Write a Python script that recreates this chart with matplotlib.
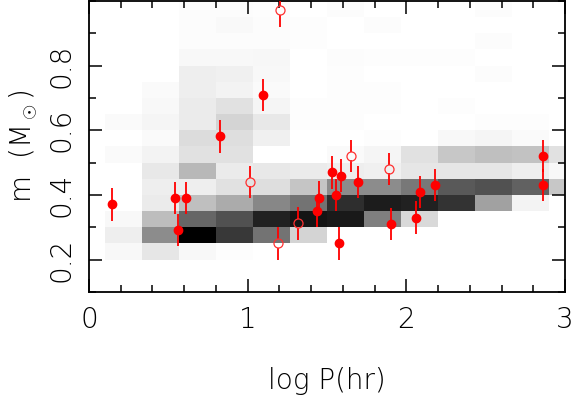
import numpy as np
import matplotlib
matplotlib.use("Agg")
import matplotlib.pyplot as plt
from matplotlib.ticker import MultipleLocator

plt.rcParams["font.family"] = "DejaVu Sans"
plt.rcParams["font.weight"] = 200
plt.rcParams["axes.labelweight"] = 200
plt.rcParams["mathtext.fontset"] = "custom"
plt.rcParams["mathtext.rm"] = "DejaVu Sans:weight=200"
plt.rcParams["mathtext.it"] = "DejaVu Sans:weight=200"

# bin edges of the grey background histogram
x_edges = [0.1, 0.333, 0.567, 0.8, 1.033, 1.267, 1.5, 1.733, 1.967, 2.2, 2.433, 2.667, 2.9, 3.133]
y_edges = [0.2, 0.25, 0.3, 0.35, 0.4, 0.45, 0.5, 0.55, 0.6, 0.65, 0.7, 0.75, 0.8, 0.85, 0.9, 0.95, 1.0]

# darkness of each cell (0 = white, 1 = black), bottom row first
density = [
    [0.03, 0.10, 0.03, 0.01, 0.00, 0.00, 0.00, 0.00, 0.00, 0.00, 0.00, 0.00, 0.00],
    [0.07, 0.45, 1.00, 0.78, 0.55, 0.17, 0.00, 0.00, 0.00, 0.00, 0.00, 0.00, 0.00],
    [0.03, 0.26, 0.60, 0.68, 0.87, 0.92, 0.90, 0.50, 0.15, 0.00, 0.00, 0.00, 0.00],
    [0.00, 0.08, 0.25, 0.33, 0.47, 0.55, 0.82, 0.89, 0.87, 0.80, 0.37, 0.05, 0.00],
    [0.00, 0.07, 0.07, 0.12, 0.13, 0.23, 0.45, 0.45, 0.53, 0.65, 0.68, 0.62, 0.22],
    [0.00, 0.09, 0.28, 0.08, 0.09, 0.08, 0.07, 0.06, 0.10, 0.10, 0.10, 0.07, 0.03],
    [0.02, 0.05, 0.12, 0.12, 0.00, 0.00, 0.02, 0.04, 0.12, 0.22, 0.25, 0.24, 0.12],
    [0.00, 0.02, 0.14, 0.13, 0.06, 0.00, 0.00, 0.01, 0.00, 0.03, 0.04, 0.02, 0.00],
    [0.02, 0.04, 0.08, 0.17, 0.09, 0.01, 0.01, 0.00, 0.00, 0.00, 0.01, 0.01, 0.00],
    [0.00, 0.03, 0.08, 0.12, 0.04, 0.01, 0.01, 0.01, 0.00, 0.01, 0.00, 0.00, 0.00],
    [0.00, 0.02, 0.07, 0.05, 0.02, 0.00, 0.01, 0.01, 0.00, 0.00, 0.00, 0.00, 0.00],
    [0.00, 0.00, 0.07, 0.06, 0.03, 0.00, 0.01, 0.00, 0.00, 0.00, 0.015, 0.00, 0.00],
    [0.00, 0.00, 0.03, 0.03, 0.035, 0.00, 0.015, 0.01, 0.01, 0.01, 0.00, 0.00, 0.00],
    [0.00, 0.00, 0.015, 0.015, 0.015, 0.01, 0.00, 0.00, 0.00, 0.00, 0.015, 0.00, 0.00],
    [0.00, 0.00, 0.015, 0.025, 0.015, 0.01, 0.00, 0.015, 0.00, 0.00, 0.00, 0.00, 0.00],
    [0.00, 0.00, 0.015, 0.015, 0.01, 0.00, 0.015, 0.00, 0.00, 0.00, 0.015, 0.00, 0.00],
]

# measured systems, filled symbols
logp_filled = [0.147, 0.542, 0.611, 0.559, 0.825, 1.094, 1.435, 1.447, 1.529, 1.586,
               1.554, 1.575, 1.697, 1.905, 2.062, 2.088, 2.180, 2.863, 2.863]
mass_filled = [0.371, 0.391, 0.391, 0.291, 0.581, 0.710, 0.350, 0.392, 0.470, 0.460,
               0.400, 0.250, 0.441, 0.311, 0.330, 0.410, 0.430, 0.521, 0.430]
err_filled = [0.05, 0.05, 0.05, 0.05, 0.05, 0.05, 0.05, 0.05, 0.05, 0.05,
              0.05, 0.05, 0.05, 0.05, 0.05, 0.05, 0.05, 0.05, 0.05]

# open symbols
logp_open = [1.206, 1.017, 1.191, 1.319, 1.653, 1.890]
mass_open = [0.971, 0.440, 0.250, 0.312, 0.521, 0.481]
err_open = [0.05, 0.05, 0.05, 0.05, 0.05, 0.05]

fig = plt.figure(figsize=(5.73, 3.96), dpi=100)
ax = fig.add_axes([89 / 573, 104 / 396, 476 / 573, 291 / 396])

ax.pcolormesh(x_edges, y_edges, np.array(density), cmap="gray_r", vmin=0, vmax=1,
              shading="flat", zorder=1)

ax.errorbar(logp_filled, mass_filled, yerr=err_filled, fmt="o", color="red",
            markersize=6, ecolor="red", elinewidth=1.3, capsize=0, zorder=5)

# open symbols: bars stop at the circle edge
gap = 0.013
for x, y, e in zip(logp_open, mass_open, err_open):
    ax.vlines(x, y + gap, y + e, color="red", linewidth=1.3, zorder=4)
    ax.vlines(x, y - e, y - gap, color="red", linewidth=1.3, zorder=4)
ax.plot(logp_open, mass_open, "o", markersize=6.5, markerfacecolor="none",
        markeredgecolor="#ff3030", markeredgewidth=0.9, linestyle="none", zorder=5)

ax.set_xlim(0, 3)
ax.set_ylim(0.1, 1.0)

ax.xaxis.set_major_locator(MultipleLocator(1))
ax.xaxis.set_minor_locator(MultipleLocator(0.2))
ax.yaxis.set_minor_locator(MultipleLocator(0.1))
ax.set_yticks([0.2, 0.4, 0.6, 0.8])

ax.tick_params(which="both", direction="in", top=True, right=True, width=1.1,
               labelsize=20, pad=10)
ax.tick_params(which="major", length=9.5)
ax.tick_params(which="minor", length=4.7)
for lab in ax.get_yticklabels():
    lab.set_rotation(90)
    lab.set_va("center")

for sp in ax.spines.values():
    sp.set_linewidth(1.3)

ax.set_xlabel("log P(hr)", fontsize=20, fontweight=200, labelpad=24)
ax.set_ylabel(r"m  (M$_\odot$)", fontsize=20, fontweight=200, labelpad=5)

fig.savefig("out.png", dpi=100)
